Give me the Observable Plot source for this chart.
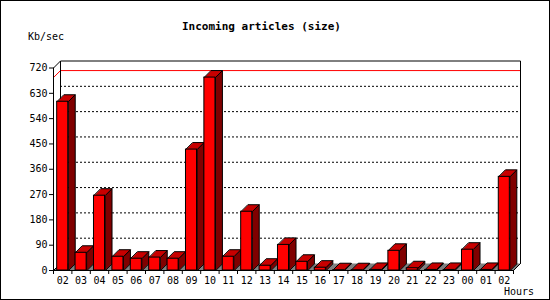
<!DOCTYPE html>
<html>
<head>
<meta charset="utf-8">
<script src="https://cdn.jsdelivr.net/npm/d3@7"></script>
<script src="https://cdn.jsdelivr.net/npm/@observablehq/plot@0.6"></script>
<style>
  html, body { margin: 0; padding: 0; background: #fff; }
  #wrap { position: relative; width: 550px; height: 300px; overflow: hidden; background: #fff; }
  #wrap svg { position: absolute; left: 0; top: 0; }
  .t { position: absolute; font-family: "DejaVu Sans Mono", monospace; color: #000; white-space: nowrap; line-height: 1; }
  #frame { position: absolute; left: 0; top: 0; width: 550px; height: 300px; box-sizing: border-box; border: 1px solid #000; pointer-events: none; }
</style>
</head>
<body>
<div id="wrap">
  <div class="t" id="title" style="left:182px; top:21px; font-size:11px; font-weight:bold;">Incoming articles (size)</div>
  <div class="t" id="ylab" style="left:28px; top:32px; font-size:10px;">Kb/sec</div>
  <div class="t" id="xlab" style="left:504px; top:287px; font-size:10px;">Hours</div>
  <div id="frame"></div>
</div>
<script>
// ---- data ----
const hours = ["02","03","04","05","06","07","08","09","10","11","12","13","14","15","16","17","18","19","20","21","22","23","00","01","02"];
const values = [600, 63, 266, 49, 42, 46, 42, 430, 686, 49, 209, 17, 91, 31, 10, 1, 1, 2, 70, 8, 2, 2, 74, 2, 333];
const yTicks = [0, 90, 180, 270, 360, 450, 540, 630, 720];

// ---- layout ----
const X0 = 53, X1 = 513, Y0 = 270, Y1 = 67.5, depth = 7;
const n = hours.length;
const yMax = 720;
const dxu = depth * n / (X1 - X0);
const dyu = depth * yMax / (Y0 - Y1);
const maxV = d3.max(values);

const bars = values.map((v, i) => ({i, v, x1: i + 0.2, x2: i + 0.8}));

// polygons built from data values + depth offset (in data units)
const sides = bars.flatMap(b => [
  {k: b.i, x: b.x2, y: 0},
  {k: b.i, x: b.x2, y: b.v},
  {k: b.i, x: b.x2 + dxu, y: b.v + dyu},
  {k: b.i, x: b.x2 + dxu, y: dyu}
]);
const tops = bars.flatMap(b => [
  {k: b.i, x: b.x1, y: b.v},
  {k: b.i, x: b.x2, y: b.v},
  {k: b.i, x: b.x2 + dxu, y: b.v + dyu},
  {k: b.i, x: b.x1 + dxu, y: b.v + dyu}
]);
const floor = [
  {x: 0, y: 0}, {x: n, y: 0}, {x: n + dxu, y: dyu}, {x: dxu, y: dyu}
];
const wallEdge = [
  {x: dxu, y: dyu}, {x: dxu, y: yMax + dyu}, {x: n + dxu, y: yMax + dyu}, {x: n + dxu, y: dyu}
];

const chart = Plot.plot({
  width: 550,
  height: 300,
  marginLeft: X0, marginRight: 550 - X1, marginTop: Y1, marginBottom: 300 - Y0,
  style: {fontFamily: "'DejaVu Sans Mono', monospace", fontSize: "10px", background: "transparent", overflow: "visible"},
  x: {type: "linear", domain: [0, n], range: [X0, X1]},
  y: {type: "linear", domain: [0, yMax], range: [Y0, Y1]},
  marks: [
    // floor
    Plot.line(floor, {x: "x", y: "y", fill: "#808080", stroke: "none", curve: "linear-closed"}),
    // back wall grid
    Plot.ruleY(yTicks.filter(t => t > 0 && t < yMax), {x1: dxu, x2: n + dxu, y: d => d + dyu, stroke: "#000", strokeDasharray: "2,2", strokeWidth: 1}),
    // max line on back wall + side wall
    Plot.ruleY([maxV], {x1: dxu, x2: n + dxu, y: d => d + dyu, stroke: "#ff0000", strokeWidth: 1}),
    Plot.link([maxV], {x1: 0, y1: d => d, x2: dxu, y2: d => d + dyu, stroke: "#ff0000", strokeWidth: 1}),
    // wall edges
    Plot.line(wallEdge, {x: "x", y: "y", stroke: "#000", strokeWidth: 1}),
    Plot.link([yMax], {x1: 0, y1: d => d, x2: dxu, y2: d => d + dyu, stroke: "#000", strokeWidth: 1}),
    Plot.link([0], {x1: 0, y1: 0, x2: dxu, y2: dyu, stroke: "#000", strokeWidth: 1}),
    Plot.link([0], {x1: n, y1: 0, x2: n + dxu, y2: dyu, stroke: "#000", strokeWidth: 1}),
    // bars
    Plot.line(sides, {x: "x", y: "y", z: "k", fill: "#800000", stroke: "#000", strokeWidth: 1, curve: "linear-closed"}),
    Plot.line(tops, {x: "x", y: "y", z: "k", fill: "#c80000", stroke: "#000", strokeWidth: 1, curve: "linear-closed"}),
    Plot.rect(bars, {x1: "x1", x2: "x2", y1: 0, y2: "v", fill: "#ff0000", stroke: "#000", strokeWidth: 1}),
    // front axes lines
    Plot.ruleX([0], {y1: 0, y2: yMax, stroke: "#000"}),
    Plot.ruleY([0], {x1: 0, x2: n, stroke: "#000"}),
    // axes
    Plot.axisY(yTicks, {tickSize: 4, tickPadding: 2, label: null, fontSize: 10}),
    Plot.axisX(d3.range(n + 1), {tickSize: 4, tickFormat: () => "", label: null}),
    Plot.axisX(d3.range(n).map(i => i + 0.5), {tickSize: 0, tickPadding: 6, tickFormat: d => hours[Math.floor(d)], label: null, fontSize: 10})
  ]
});
document.getElementById("wrap").prepend(chart);
</script>
</body>
</html>
